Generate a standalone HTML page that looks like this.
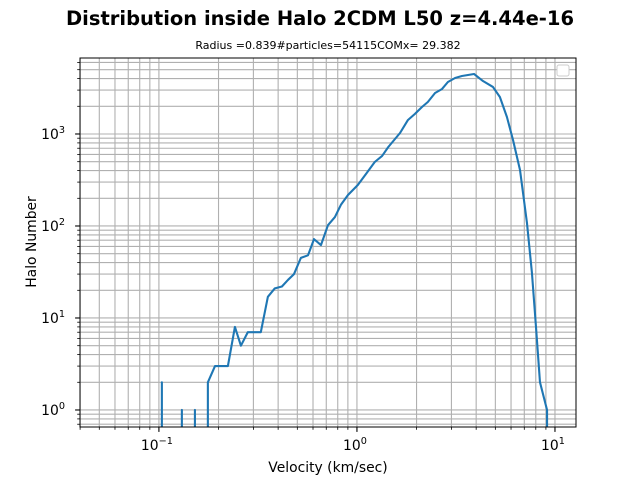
<!DOCTYPE html>
<html><head><meta charset="utf-8"><style>
html,body{margin:0;background:#fff;overflow:hidden;width:640px;height:480px;}
svg{display:block;overflow:hidden;font-family:"DejaVu Sans","Liberation Sans",sans-serif;}
</style></head><body>
<svg id="chart" width="640" height="480" viewBox="0 0 640 480">
<rect width="640" height="480" fill="#fff"/>
<text x="320" y="25" text-anchor="middle" font-size="19.5" font-weight="bold">Distribution inside Halo 2CDM L50 z=4.44e-16</text>
<text x="328" y="49" text-anchor="middle" font-size="11">Radius =0.839#particles=54115COMx= 29.382</text>
<g id="grid"></g>
<g id="series"></g>
<rect x="80" y="58" width="496" height="369" fill="none" stroke="#000" stroke-width="1"/>
<g id="ticks"></g>
<rect x="557" y="65" width="12" height="11" rx="2" fill="#fff" stroke="#ccc"/>
<text x="328" y="472" text-anchor="middle" font-size="13.9">Velocity (km/sec)</text>
<text transform="translate(36,242) rotate(-90)" text-anchor="middle" font-size="13.9">Halo Number</text>
</svg>
<script>
const velocity=[0.095,0.1035,0.11,0.1306,0.14,0.152,0.165,0.1767,0.192,0.223,0.242,0.2595,0.281,0.327,0.355,0.385,0.418,0.449,0.481,0.521,0.566,0.607,0.658,0.714,0.774,0.830,0.901,1.01,1.12,1.23,1.34,1.44,1.65,1.81,1.96,2.13,2.28,2.48,2.69,2.88,3.13,3.39,3.90,4.33,4.86,5.27,5.72,6.14,6.66,7.22,7.65,8.02,8.40,9.12,9.5];
const counts=[0,2,0,1,0,1,0,2,3,3,8,5,7,7,17,21,22,26,30,45,48,72,62,102,125,170,217,279,377,496,577,722,1025,1420,1650,1965,2227,2790,3085,3675,4060,4270,4490,3765,3245,2525,1530,860,406,108,31,8,2,1,0];
const xTickLabels=["10","10","10"];
const xTickExps=["−1","0","1"];
const xTickVals=[0.1,1,10];
const yTickVals=[1,10,100,1000];
const yTickExps=["0","1","2","3"];

const X0=80,X1=576,Y0=58,Y1=427;
const xmin=Math.log10(0.03995),xmax=Math.log10(12.77);
const ymin=-0.185,ymax=3.826;
function xs(v){return X0+(Math.log10(v)-xmin)/(xmax-xmin)*(X1-X0);}
function ys(v){return Y1-(Math.log10(v)-ymin)/(ymax-ymin)*(Y1-Y0);}
const NS="http://www.w3.org/2000/svg";
function mk(t,a,p){const e=document.createElementNS(NS,t);for(const k in a)e.setAttribute(k,a[k]);p.appendChild(e);return e;}
const grid=document.getElementById('grid'),ticks=document.getElementById('ticks'),series=document.getElementById('series');
for(let d=-2;d<=1;d++)for(let m=1;m<10;m++){const v=m*Math.pow(10,d);const px=xs(v);if(px<X0||px>X1)continue;
 const l=mk('line',{x1:px,x2:px,y1:Y0,y2:Y1,stroke:'#b0b0b0','stroke-width':1.1},grid);
 
 
 const t=mk('line',{x1:px,x2:px,y1:Y1,y2:Y1+(m==1?4.9:2.8),stroke:'#000','stroke-width':m==1?1.1:0.8},ticks);
 
 }
for(let d=-1;d<=4;d++)for(let m=1;m<10;m++){const v=m*Math.pow(10,d);const py=ys(v);if(py<Y0||py>Y1)continue;
 const l=mk('line',{x1:X0,x2:X1,y1:py,y2:py,stroke:'#b0b0b0','stroke-width':1.1},grid);
 
 
 const t=mk('line',{x1:X0-(m==1?4.9:2.8),x2:X0,y1:py,y2:py,stroke:'#000','stroke-width':m==1?1.1:0.8},ticks);
 
 }
xTickVals.forEach((v,i)=>{const t=mk('text',{x:xs(v)-2,y:Y1+23,'text-anchor':'middle','font-size':13.9},ticks);
 
 
 t.textContent=xTickLabels[i];
 const s=mk('tspan',{dy:-6,'font-size':9.7},t);s.textContent=xTickExps[i];});
yTickVals.forEach((v,i)=>{const t=mk('text',{x:X0-15,y:ys(v)+5,'text-anchor':'end','font-size':13.9},ticks);
 
 
 t.textContent='10';
 const s=mk('tspan',{dy:-6,'font-size':9.7},t);s.textContent=yTickExps[i];});
// build path: zero counts -> vertical drop to the bottom axis at the neighbouring nonzero x
let d='',pen=false;
for(let i=0;i<velocity.length;i++){
 const c=counts[i];
 if(c<=0){ if(pen){const px=xs(velocity[i-1]).toFixed(2);d+=' L'+px+','+Y1;pen=false;} continue; }
 const px=xs(velocity[i]).toFixed(2),py=ys(c).toFixed(2);
 if(!pen){ if(i>0&&counts[i-1]<=0) d+=' M'+px+','+Y1+' L'+px+','+py; else d+=' M'+px+','+py; pen=true; }
 else d+=' L'+px+','+py;
}
const p=mk('path',{d:d.trim(),fill:'none',stroke:'#1f77b4','stroke-width':2.1,'stroke-linejoin':'round'},series);


</script>
</body></html>
